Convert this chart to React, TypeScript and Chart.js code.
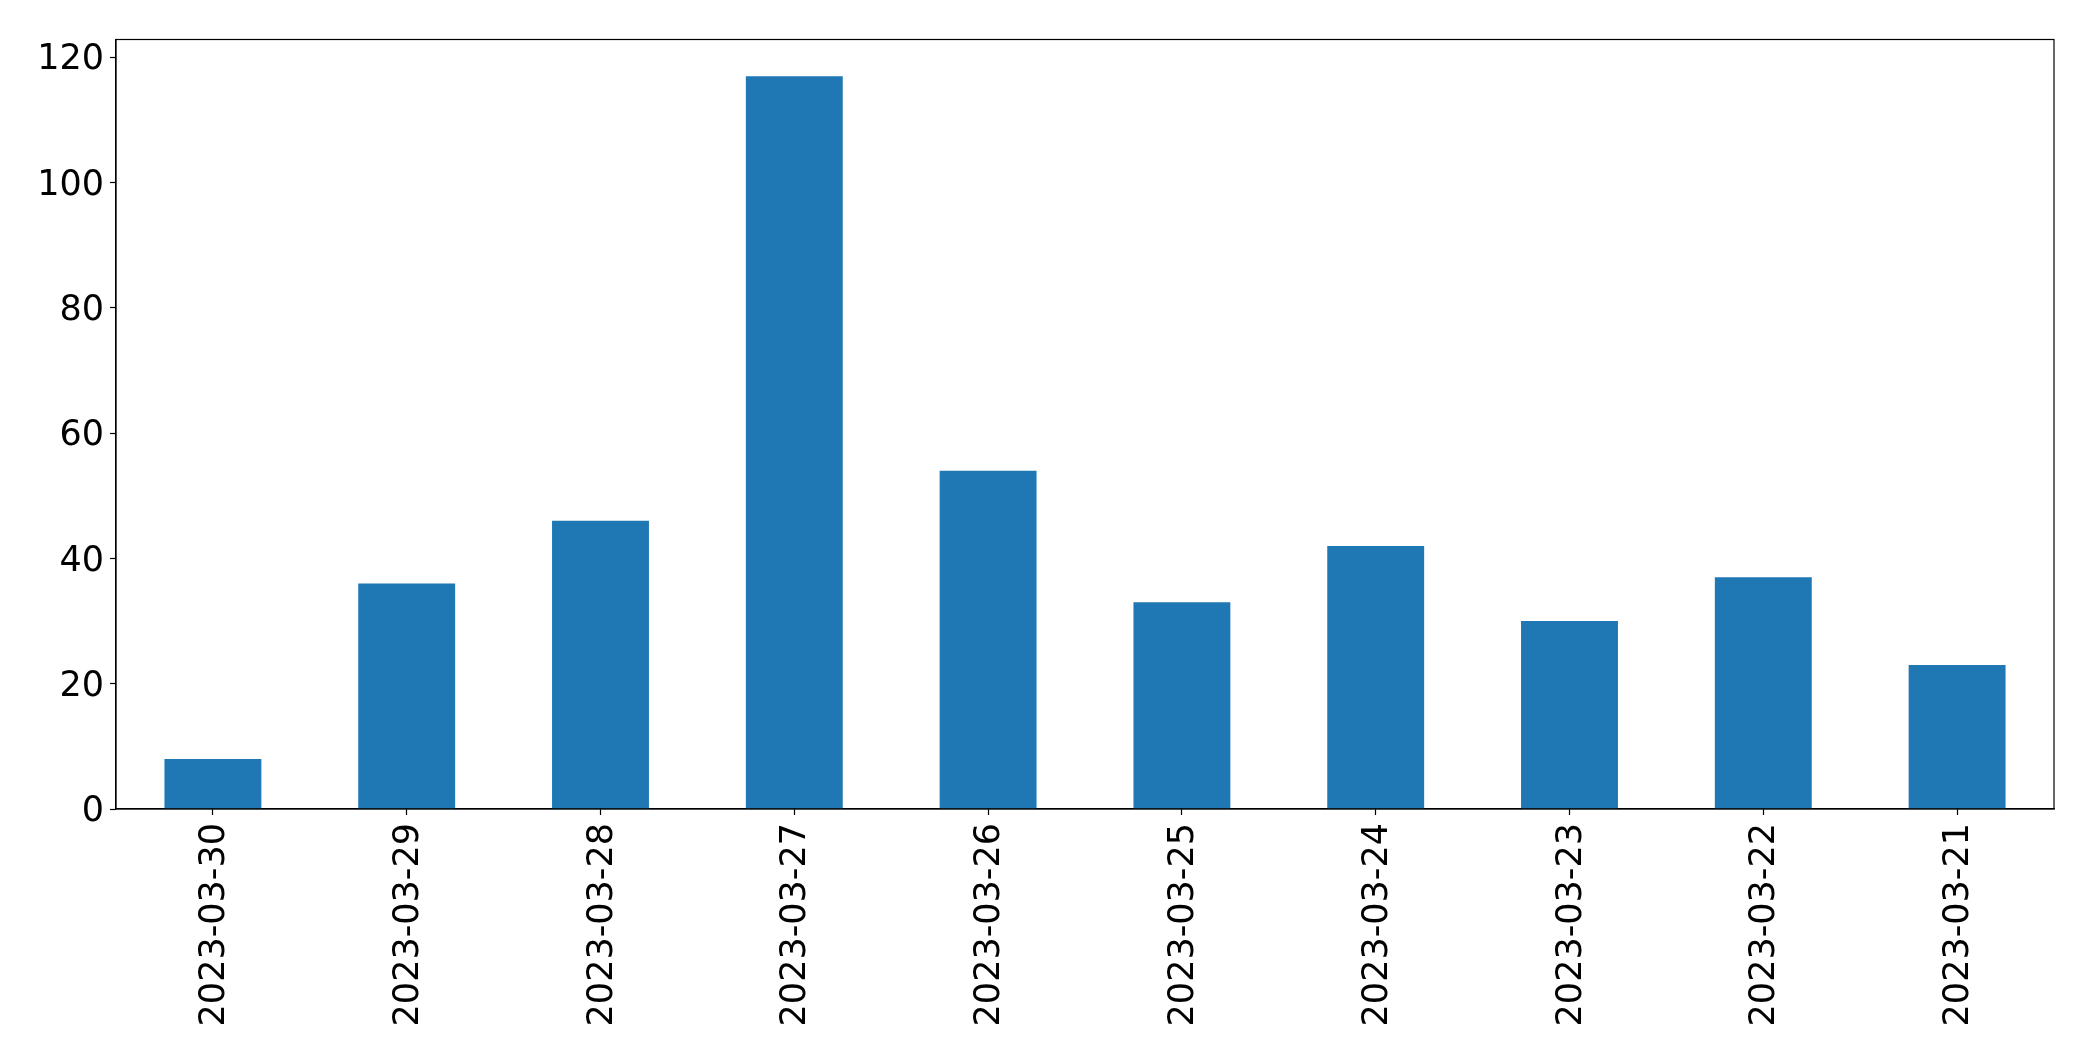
import React, { useEffect, useRef } from "react";
import { Chart, registerables } from "chart.js";

Chart.register(...registerables);

const categories = [
  "2023-03-30",
  "2023-03-29",
  "2023-03-28",
  "2023-03-27",
  "2023-03-26",
  "2023-03-25",
  "2023-03-24",
  "2023-03-23",
  "2023-03-22",
  "2023-03-21",
];
const counts = [8, 36, 46, 117, 54, 33, 42, 30, 37, 23];
const yTicks = [0, 20, 40, 60, 80, 100, 120];

const W = 2093;
const H = 1061;
const AREA = { left: 116, top: 39.5, right: 2054, bottom: 809 };

const framePlugin = {
  id: "frame",
  afterDraw(chart: any) {
    const { ctx, chartArea } = chart;
    ctx.save();
    ctx.strokeStyle = "#000";
    ctx.lineWidth = 1.2;
    ctx.strokeRect(
      chartArea.left,
      chartArea.top,
      chartArea.right - chartArea.left,
      chartArea.bottom - chartArea.top
    );
    ctx.restore();
  },
};

export default function App() {
  const ref = useRef<HTMLCanvasElement | null>(null);
  useEffect(() => {
    document.body.style.margin = "0";
    const canvas = ref.current!;
    const font = { family: "'DejaVu Sans', sans-serif", size: 35 };
    const chart = new Chart(canvas, {
      type: "bar",
      data: {
        labels: categories,
        datasets: [
          {
            data: counts,
            backgroundColor: "#1f77b4",
            borderWidth: 0,
            barPercentage: 0.5,
            categoryPercentage: 1,
          },
        ],
      },
      options: {
        responsive: false,
        animation: false,
        devicePixelRatio: 1,
        layout: { padding: { top: AREA.top, right: W - AREA.right, left: 0, bottom: 0 } },
        plugins: { legend: { display: false }, tooltip: { enabled: false } },
        scales: {
          x: {
            type: "category",
            offset: true,
            grid: {
              offset: false,
              drawOnChartArea: false,
              drawTicks: true,
              tickLength: 6,
              tickColor: "#000",
              tickWidth: 1.2,
            },
            border: { display: true, color: "#000", width: 1.2 },
            ticks: {
              color: "#000",
              font,
              minRotation: 90,
              maxRotation: 90,
              autoSkip: false,
              padding: 8,
              labelOffset: 2,
            },
            afterFit(scale: any) {
              scale.height = H - AREA.bottom;
            },
          },
          y: {
            min: 0,
            max: 122.85,
            grid: {
              drawOnChartArea: false,
              drawTicks: true,
              tickLength: 6,
              tickColor: "#000",
              tickWidth: 1.2,
            },
            border: { display: true, color: "#000", width: 1.2 },
            ticks: { color: "#000", font, padding: 6, stepSize: 20, labelOffset: 3 },
            afterBuildTicks(scale: any) {
              scale.ticks = yTicks.map((v) => ({ value: v }));
            },
            afterFit(scale: any) {
              scale.width = AREA.left;
            },
          },
        },
      },
      plugins: [framePlugin],
    } as any);
    return () => chart.destroy();
  }, []);
  return (
    <div style={{ position: "absolute", left: 0, top: 0, width: W, height: H, background: "#fff" }}>
      <canvas ref={ref} width={W} height={H} style={{ width: W, height: H }} />
    </div>
  );
}
